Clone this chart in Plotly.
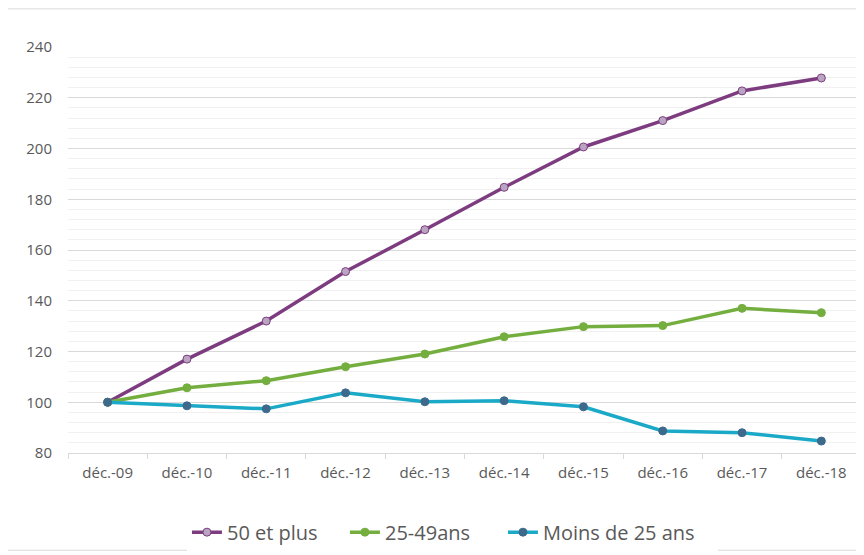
import plotly.graph_objects as go

categories = ["déc.-09", "déc.-10", "déc.-11", "déc.-12", "déc.-13",
              "déc.-14", "déc.-15", "déc.-16", "déc.-17", "déc.-18"]
s50 = [100, 117, 132, 151.5, 168, 184.7, 200.6, 211, 222.7, 227.8]
s25_49 = [100, 105.7, 108.5, 114, 119, 125.8, 129.8, 130.2, 137, 135.3]
s_moins25 = [100, 98.6, 97.4, 103.7, 100.2, 100.6, 98.2, 88.7, 88, 84.7]
y_ticks = [80, 100, 120, 140, 160, 180, 200, 220, 240]

fig = go.Figure()
fig.add_trace(go.Scatter(
    x=categories, y=s50, name="50 et plus", mode="lines+markers",
    line=dict(color="#7D3C7F", width=3.5),
    marker=dict(size=8, color="#B9A4C2", line=dict(color="#7D3C7F", width=1)),
))
fig.add_trace(go.Scatter(
    x=categories, y=s25_49, name="25-49ans", mode="lines+markers",
    line=dict(color="#74AE3F", width=3.5),
    marker=dict(size=8, color="#74AE3F", line=dict(color="#74AE3F", width=1)),
))
fig.add_trace(go.Scatter(
    x=categories, y=s_moins25, name="Moins de 25 ans", mode="lines+markers",
    line=dict(color="#1AAAC8", width=3.5),
    marker=dict(size=8, color="#3D6A8C", line=dict(color="#3D6A8C", width=1)),
    legendwidth=170,
))

# page body has an 8px margin: figure sized so the plot area lands where the reference has it
fig.update_layout(
    width=856, height=547,
    margin=dict(l=60, r=3, t=39, b=95),
    paper_bgcolor="white", plot_bgcolor="white",
    font=dict(family="Open Sans", color="#595959"),
    showlegend=True,
    legend=dict(orientation="h", x=0.150, xanchor="left", y=-0.195, yanchor="middle",
                font=dict(size=20, color="#595959"), tracegroupgap=0,
                entrywidth=113, entrywidthmode="pixels"),
    xaxis=dict(
        type="category", showgrid=False, showline=True, linecolor="#D9D9D9",
        linewidth=1, ticks="outside", tickson="boundaries", ticklen=5,
        tickcolor="#D9D9D9", tickfont=dict(size=15, color="#595959"),
        ticklabelstandoff=6, range=[-0.5, 9.5],
    ),
    yaxis=dict(
        range=[80, 240], tickvals=y_ticks, showgrid=True, gridcolor="#D9D9D9",
        gridwidth=1, zeroline=False, showline=False,
        ticks="outside", ticklen=12, tickcolor="rgba(0,0,0,0)",
        tickfont=dict(size=15, color="#595959"),
        minor=dict(dtick=4, showgrid=True, gridcolor="#F0F0F0", gridwidth=1),
    ),
    shapes=[dict(type="rect", xref="paper", yref="paper",
                 x0=-0.079, x1=1.0102, y0=-0.2395, y1=1.0938,
                 line=dict(color="#D9D9D9", width=1), fillcolor="rgba(0,0,0,0)", layer="below")],
)

fig.write_html("out.html")
